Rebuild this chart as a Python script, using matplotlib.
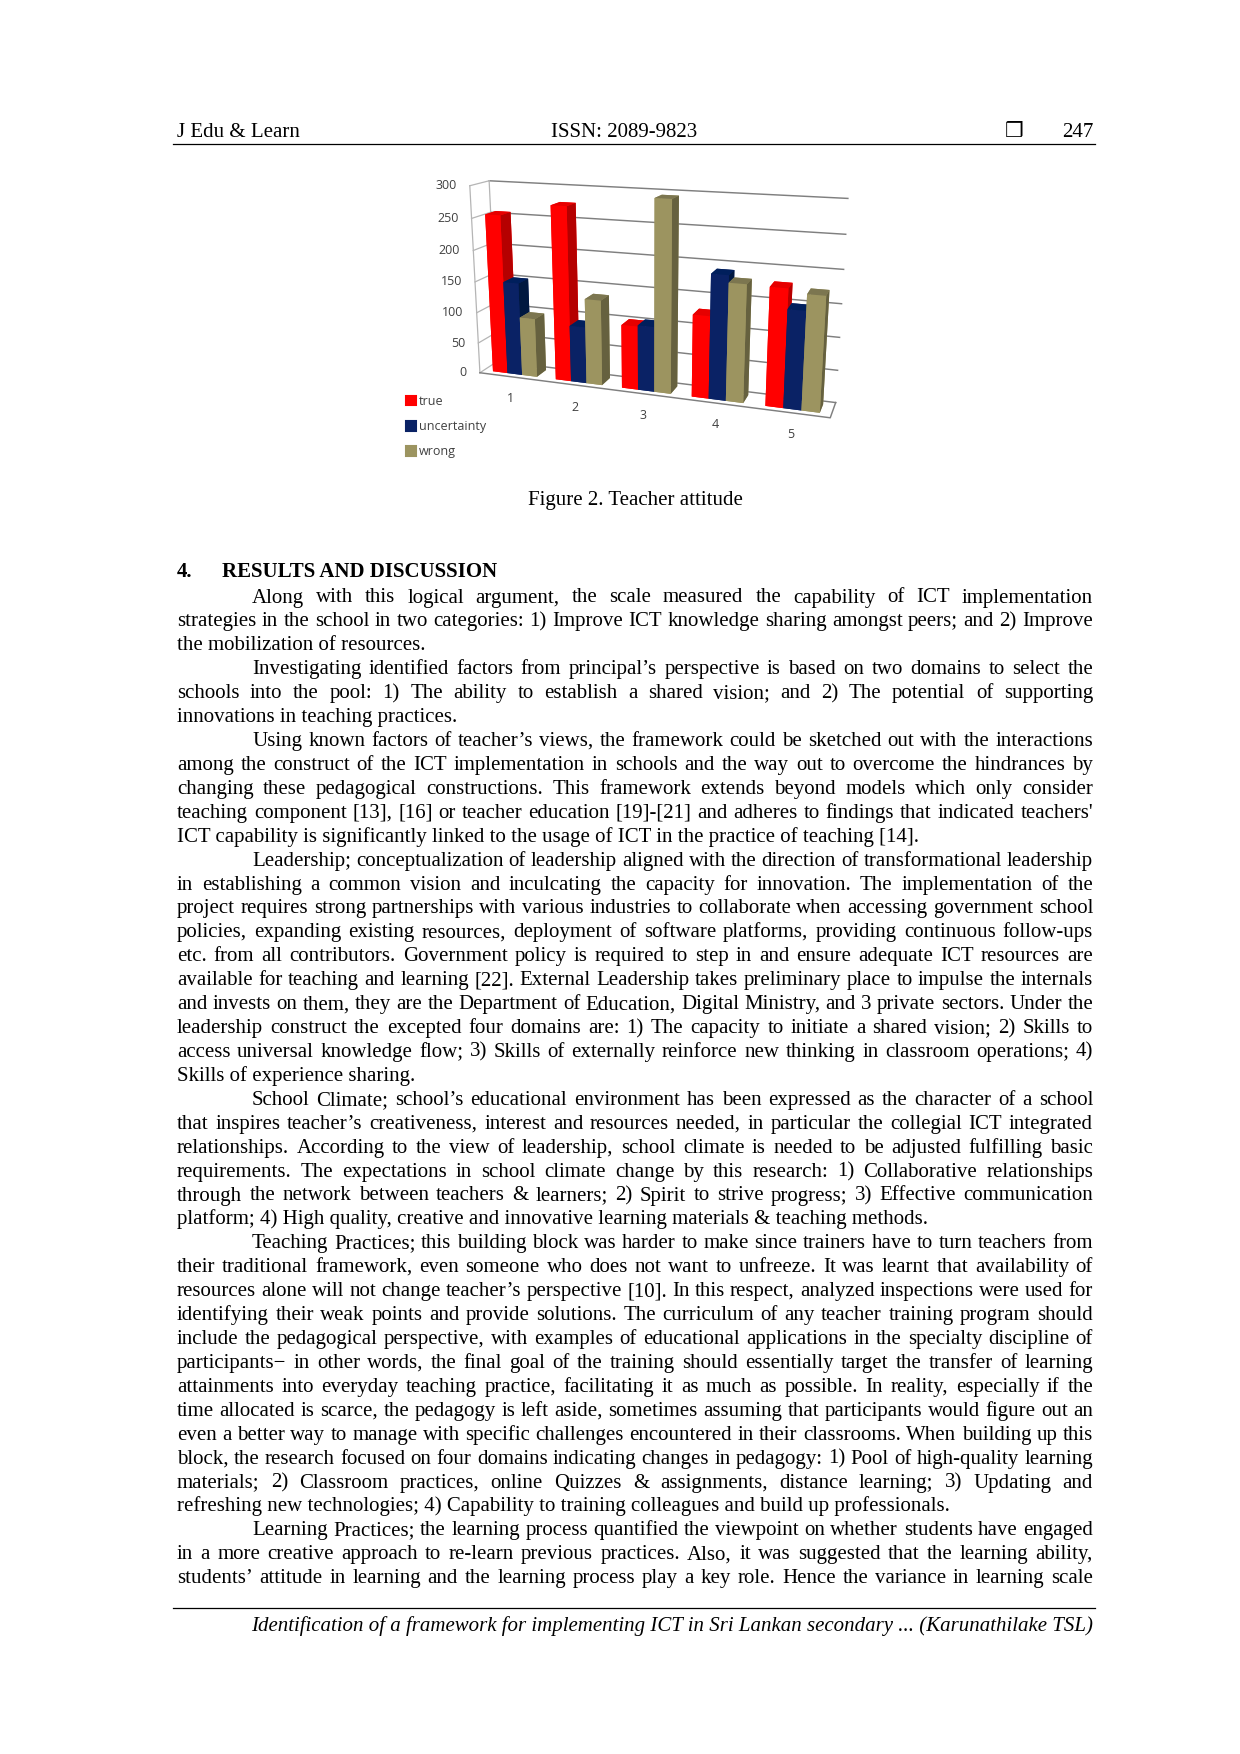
import matplotlib
matplotlib.use('Agg')
import matplotlib.pyplot as plt
from matplotlib.patches import Patch
from mpl_toolkits.mplot3d import proj3d

# Chart values
categories = ['1', '2', '3', '4', '5']
series_names = ['true', 'uncertainty', 'wrong']
true_vals = [255, 275, 100, 127, 178]
uncertainty_vals = [150, 90, 102, 190, 148]
wrong_vals = [95, 135, 294, 179, 172]
z_ticks = [0, 50, 100, 150, 200, 250, 300]

# face order for bar3d: bottom, top, front, back, left, right
red_faces = ['#ff0000', '#e60000', '#ff0000', '#ff0000', '#ff0000', '#b50000']
blue_faces = ['#0a2265', '#001f5c', '#0a2265', '#0a2265', '#0a2265', '#001840']
olive_faces = ['#9c9460', '#7c7650', '#9c9460', '#9c9460', '#9c9460', '#66613f']

# Page text
header_left = 'J Edu & Learn'
header_mid = 'ISSN: 2089-9823'
header_page = '247'
caption = 'Figure 2. Teacher attitude'
section_no = '4.'
section_title = 'RESULTS AND DISCUSSION'
footer = 'Identification of a framework for implementing ICT in Sri Lankan secondary ... (Karunathilake TSL)'

# (text, indented, justified)
body_lines = [
    ('Along with this logical argument, the scale measured the capability of ICT implementation', True, True),
    ('strategies in the school in two categories: 1) Improve ICT knowledge sharing amongst peers; and 2) Improve', False, True),
    ('the mobilization of resources.', False, False),
    ('Investigating identified factors from principal’s perspective is based on two domains to select the', True, True),
    ('schools into the pool: 1) The ability to establish a shared vision; and 2) The potential of supporting', False, True),
    ('innovations in teaching practices.', False, False),
    ('Using known factors of teacher’s views, the framework could be sketched out with the interactions', True, True),
    ('among the construct of the ICT implementation in schools and the way out to overcome the hindrances by', False, True),
    ('changing these pedagogical constructions. This framework extends beyond models which only consider', False, True),
    ("teaching component [13], [16] or teacher education [19]-[21] and adheres to findings that indicated teachers'", False, True),
    ('ICT capability is significantly linked to the usage of ICT in the practice of teaching [14].', False, False),
    ('Leadership; conceptualization of leadership aligned with the direction of transformational leadership', True, True),
    ('in establishing a common vision and inculcating the capacity for innovation. The implementation of the', False, True),
    ('project requires strong partnerships with various industries to collaborate when accessing government school', False, True),
    ('policies, expanding existing resources, deployment of software platforms, providing continuous follow-ups', False, True),
    ('etc. from all contributors. Government policy is required to step in and ensure adequate ICT resources are', False, True),
    ('available for teaching and learning [22]. External Leadership takes preliminary place to impulse the internals', False, True),
    ('and invests on them, they are the Department of Education, Digital Ministry, and 3 private sectors. Under the', False, True),
    ('leadership construct the excepted four domains are: 1) The capacity to initiate a shared vision; 2) Skills to', False, True),
    ('access universal knowledge flow; 3) Skills of externally reinforce new thinking in classroom operations; 4)', False, True),
    ('Skills of experience sharing.', False, False),
    ('School Climate; school’s educational environment has been expressed as the character of a school', True, True),
    ('that inspires teacher’s creativeness, interest and resources needed, in particular the collegial ICT integrated', False, True),
    ('relationships. According to the view of leadership, school climate is needed to be adjusted fulfilling basic', False, True),
    ('requirements. The expectations in school climate change by this research: 1) Collaborative relationships', False, True),
    ('through the network between teachers & learners; 2) Spirit to strive progress; 3) Effective communication', False, True),
    ('platform; 4) High quality, creative and innovative learning materials & teaching methods.', False, False),
    ('Teaching Practices; this building block was harder to make since trainers have to turn teachers from', True, True),
    ('their traditional framework, even someone who does not want to unfreeze. It was learnt that availability of', False, True),
    ('resources alone will not change teacher’s perspective [10]. In this respect, analyzed inspections were used for', False, True),
    ('identifying their weak points and provide solutions. The curriculum of any teacher training program should', False, True),
    ('include the pedagogical perspective, with examples of educational applications in the specialty discipline of', False, True),
    ('participants− in other words, the final goal of the training should essentially target the transfer of learning', False, True),
    ('attainments into everyday teaching practice, facilitating it as much as possible. In reality, especially if the', False, True),
    ('time allocated is scarce, the pedagogy is left aside, sometimes assuming that participants would figure out an', False, True),
    ('even a better way to manage with specific challenges encountered in their classrooms. When building up this', False, True),
    ('block, the research focused on four domains indicating changes in pedagogy: 1) Pool of high-quality learning', False, True),
    ('materials; 2) Classroom practices, online Quizzes & assignments, distance learning; 3) Updating and', False, True),
    ('refreshing new technologies; 4) Capability to training colleagues and build up professionals.', False, False),
    ('Learning Practices; the learning process quantified the viewpoint on whether students have engaged', True, True),
    ('in a more creative approach to re-learn previous practices. Also, it was suggested that the learning ability,', False, True),
    ('students’ attitude in learning and the learning process play a key role. Hence the variance in learning scale', False, True),
]

W, H, DPI = 1240, 1754, 150
SERIF = 'Liberation Serif'
LEFT, RIGHT, INDENT = 177, 1093, 252
BODY_TOP, BODY_STEP = 602.5, 23.92

fig = plt.figure(figsize=(W / DPI, H / DPI), dpi=DPI, facecolor='white')

# page axes in pixel coordinates, y pointing down
page = fig.add_axes([0, 0, 1, 1])
page.set_xlim(0, W)
page.set_ylim(H, 0)
page.set_xticks([])
page.set_yticks([])
page.axis('off')
renderer = fig.canvas.get_renderer()


def put_line(text, x0, x1, y, justify):
    if not justify:
        page.text(x0, y, text, family=SERIF, fontsize=10, va='baseline')
        return
    # spread the words over the column, one text per word
    words = text.split(' ')
    items = [page.text(0, y, w, family=SERIF, fontsize=10, va='baseline') for w in words]
    widths = [t.get_window_extent(renderer).width for t in items]
    gap = (x1 - x0 - sum(widths)) / (len(words) - 1)
    x = x0
    for t, w in zip(items, widths):
        t.set_x(x)
        x += w + gap


# header and footer
page.text(LEFT, 137, header_left, family=SERIF, fontsize=10, va='baseline')
page.text(551, 137, header_mid, family=SERIF, fontsize=10, va='baseline')
page.text(1005, 137, '❒', family='DejaVu Sans', fontsize=10, va='baseline')
page.text(1093, 137, header_page, family=SERIF, fontsize=10, va='baseline', ha='right')
page.plot([173, 1095], [144, 144], color='black', lw=0.6)
page.plot([173, 1095], [1608, 1608], color='black', lw=0.6)
page.text(RIGHT, 1631, footer, family=SERIF, style='italic', fontsize=10, va='baseline', ha='right')

# caption and section title
page.text(635, 505, caption, family=SERIF, fontsize=10, va='baseline', ha='center')
page.text(LEFT, 577, section_no, family=SERIF, weight='bold', fontsize=10, va='baseline')
page.text(222, 577, section_title, family=SERIF, weight='bold', fontsize=10, va='baseline')

for i, (text, indented, justify) in enumerate(body_lines):
    x0 = INDENT if indented else LEFT
    put_line(text, x0, RIGHT, BODY_TOP + i * BODY_STEP, justify)

# 3D column chart
ax_size = 420
ax_cx, ax_cy = 644, 298
ax = fig.add_axes([(ax_cx - ax_size / 2) / W, 1 - (ax_cy + ax_size / 2) / H, ax_size / W, ax_size / H],
                  projection='3d')
ax.set_proj_type('persp', focal_length=0.38)
ax.view_init(elev=15, azim=-71)
ax.set_box_aspect((1035, 110, 560), zoom=0.985)
ax.set_xlim(0, 5)
ax.set_ylim(0, 1)
ax.set_zlim(0, 300)
ax.set_xticks([])
ax.set_yticks([])
ax.set_zticks([])
ax.set_axis_off()
ax.patch.set_visible(False)
ax.computed_zorder = False


def to_page(x, y, z):
    # where a point of the 3D axes lands on the page, in page pixels
    xs, ys, _ = proj3d.proj_transform(x, y, z, ax.get_proj())
    px, py = ax.transData.transform((xs, ys))
    return px, H - py


grid_c = '#7f7f7f'
wall_c = '#b5b5b5'
label_c = '#404040'
for z in z_ticks:
    ax.plot([0, 5], [1, 1], [z, z], color=grid_c, lw=0.7, zorder=1)
    ax.plot([0, 0], [0, 1], [z, z], color=wall_c, lw=0.6, zorder=1)
    px, py = to_page(0, 0, z)
    page.text(px - 13, py, str(z), fontsize=6, color=label_c, ha='right', va='center', family='Open Sans')
ax.plot([0, 0], [0, 0], [0, 300], color=wall_c, lw=0.6, zorder=1)
ax.plot([0, 0], [1, 1], [0, 300], color=wall_c, lw=0.6, zorder=1)
ax.plot([0, 5, 5], [0, 0, 1], [0, 0, 0], color=grid_c, lw=0.7, zorder=1)

bar_w = 0.235
bar_y, bar_d = 0.22, 0.56
series = [true_vals, uncertainty_vals, wrong_vals]
face_sets = [red_faces, blue_faces, olive_faces]
order = 2
for c in range(len(categories)):
    start = c + 0.5 - 1.5 * bar_w
    for s in range(len(series)):
        ax.bar3d(start + s * bar_w, bar_y, 0, bar_w, bar_d, series[s][c], color=face_sets[s],
                 shade=False, zorder=order)
        order += 1
    px, py = to_page(c + 0.5, 0, 0)
    page.text(px, py + 22, categories[c], fontsize=6, color=label_c, ha='center', va='center', family='Open Sans')

handles = [Patch(color=faces[0]) for faces in face_sets]
fig.legend(handles, series_names, loc='upper left', bbox_to_anchor=(406 / W, 1 - 395 / H), frameon=False,
           handlelength=0.8, handleheight=0.8, handletextpad=0.25, labelspacing=0.98, borderpad=0, borderaxespad=0,
           prop={'family': 'Open Sans', 'size': 6}, labelcolor=label_c)

fig.savefig('out.png', dpi=DPI)
